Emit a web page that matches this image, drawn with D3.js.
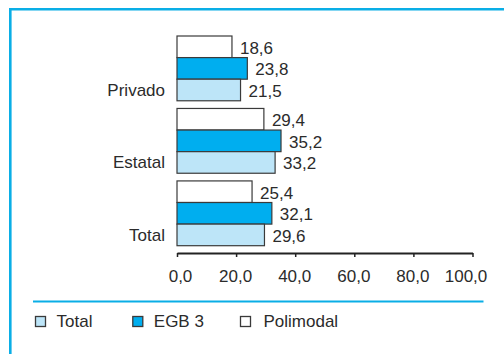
<!DOCTYPE html>
<html>
<head>
<meta charset="utf-8">
<script src="https://cdn.jsdelivr.net/npm/d3@7/dist/d3.min.js"></script>
<style>
  html, body { margin: 0; padding: 0; background: #fff; }
  svg { display: block; }
  text { font-family: "Liberation Sans", Arial, Helvetica, sans-serif; fill: #2b2b2b; }
</style>
</head>
<body>
<svg id="chart" width="504" height="354"></svg>
<script>
// ---- data ----
const categories = ["Privado", "Estatal", "Total"];
const seriesNames = ["Polimodal", "EGB 3", "Total"];       // top to bottom in each group
const polimodal = [18.6, 29.4, 25.4];
const egb3      = [23.8, 35.2, 32.1];
const total     = [21.5, 33.2, 29.6];
const tickValues = [0, 20, 40, 60, 80, 100];
const legendOrder = ["Total", "EGB 3", "Polimodal"];

const seriesValues = { "Polimodal": polimodal, "EGB 3": egb3, "Total": total };
const colors = { "Total": "#bde5f8", "EGB 3": "#00aeef", "Polimodal": "#ffffff" };
const fmt = v => d3.format(".1f")(v).replace(".", ",");
const FS = 17;

const svg = d3.select("#chart");
const frameColor = "#0aaee6";

// frame
svg.append("line").attr("x1", 9).attr("x2", 504).attr("y1", 9.3).attr("y2", 9.3)
  .attr("stroke", frameColor).attr("stroke-width", 2.6);
svg.append("line").attr("x1", 10.3).attr("x2", 10.3).attr("y1", 8).attr("y2", 354)
  .attr("stroke", frameColor).attr("stroke-width", 2.6);

// scales
const x = d3.scaleLinear().domain([0, 100]).range([177, 472.5]);
const y = d3.scaleBand().domain(categories).range([36, 245.7]).paddingInner(0.106).paddingOuter(0);
const ySub = d3.scaleBand().domain(seriesNames).range([0, y.bandwidth()]).padding(0);

// bars
const rows = [];
categories.forEach((c, i) => {
  seriesNames.forEach(s => rows.push({ cat: c, series: s, value: seriesValues[s][i] }));
});

const g = svg.append("g");
g.selectAll("rect.bar").data(rows).join("rect")
  .attr("class", "bar")
  .attr("x", x(0))
  .attr("y", d => y(d.cat) + ySub(d.series))
  .attr("width", d => x(d.value) - x(0))
  .attr("height", ySub.bandwidth())
  .attr("fill", d => colors[d.series])
  .attr("stroke", "#3a3a3a")
  .attr("stroke-width", 1.2);

// value labels
g.selectAll("text.val").data(rows).join("text")
  .attr("class", "val")
  .attr("x", d => x(d.value) + 8)
  .attr("y", d => y(d.cat) + ySub(d.series) + ySub.bandwidth() / 2 + 7)
  .attr("font-size", FS)
  .text(d => fmt(d.value));

// category labels
g.selectAll("text.cat").data(categories).join("text")
  .attr("class", "cat")
  .attr("x", 165)
  .attr("y", d => y(d) + y.bandwidth() * 0.925)
  .attr("text-anchor", "end")
  .attr("font-size", FS)
  .text(d => d);

// x axis
const axis = svg.append("g")
  .attr("transform", "translate(0,253)")
  .call(d3.axisBottom(x).tickValues(tickValues).tickSize(4).tickSizeOuter(0).tickPadding(13).tickFormat(fmt));
axis.select(".domain").attr("stroke", "#222").attr("stroke-width", 2);
axis.selectAll(".tick line").attr("stroke", "#222").attr("stroke-width", 1.5);
axis.selectAll(".tick text")
  .attr("font-size", FS)
  .attr("font-family", "'Liberation Sans', Arial, sans-serif")
  .attr("fill", "#2b2b2b")
  .attr("dx", (d, i) => i === 0 ? 3 : (i === tickValues.length - 1 ? -7 : -1));

// legend separator
svg.append("line").attr("x1", 33).attr("x2", 483.5).attr("y1", 301.5).attr("y2", 301.5)
  .attr("stroke", frameColor).attr("stroke-width", 2.2);

// legend
const legendX = { "Total": 35.5, "EGB 3": 132.8, "Polimodal": 240.5 };
const lg = svg.append("g").selectAll("g").data(legendOrder).join("g")
  .attr("transform", d => `translate(${legendX[d]},316.5)`);
lg.append("rect").attr("width", 10).attr("height", 10)
  .attr("fill", d => colors[d]).attr("stroke", "#3a3a3a").attr("stroke-width", 1.3);
lg.append("text").attr("x", d => d === "Polimodal" ? 23 : 21).attr("y", 10.5)
  .attr("font-size", FS).text(d => d);
</script>
</body>
</html>
